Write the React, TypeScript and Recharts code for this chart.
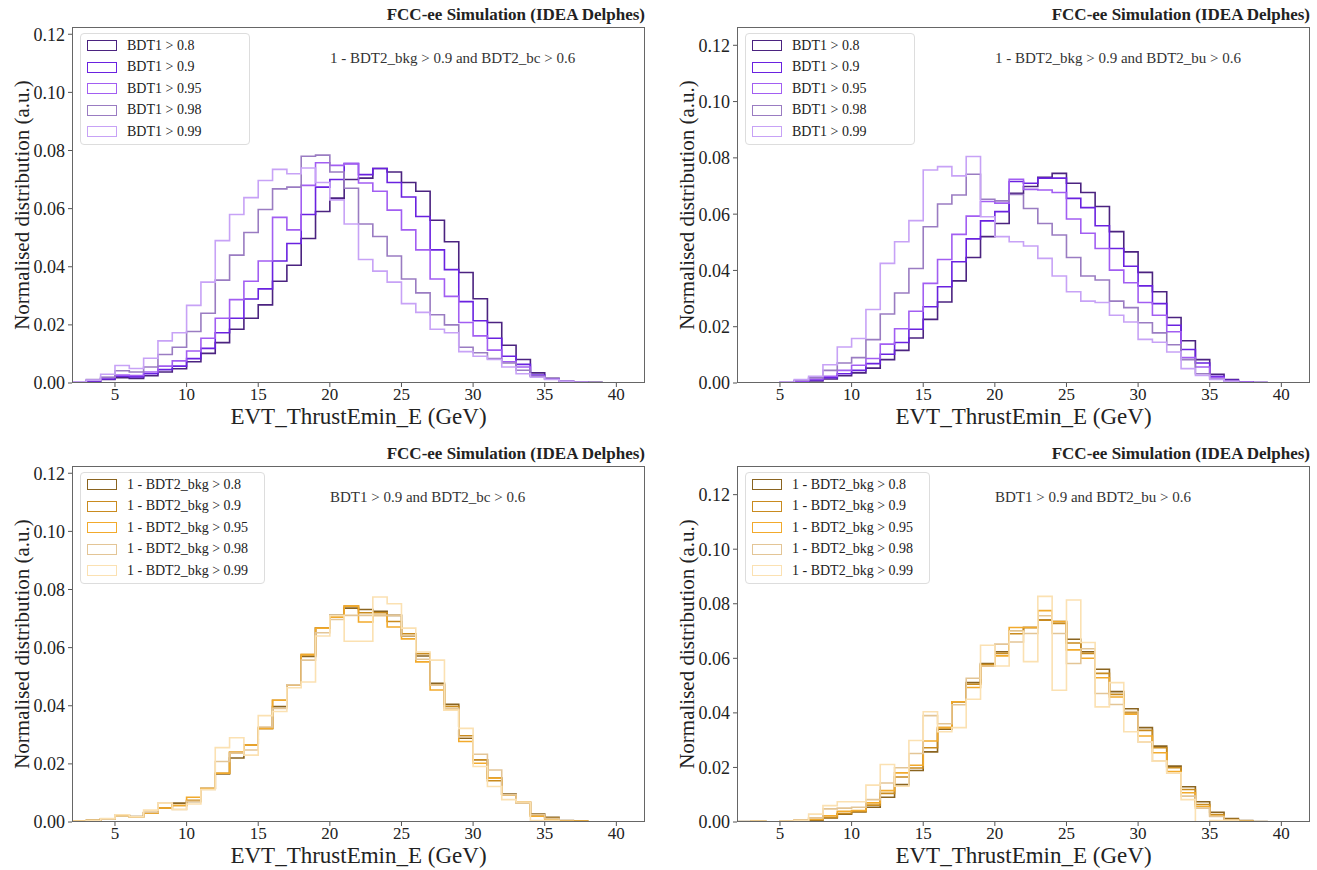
import React from 'react';
import { ComposedChart, Line, XAxis, YAxis } from 'recharts';

// histogram bin edges (GeV), 1 GeV wide
const binEdges = [2, 3, 4, 5, 6, 7, 8, 9, 10, 11, 12, 13, 14, 15, 16, 17, 18, 19, 20, 21, 22,
  23, 24, 25, 26, 27, 28, 29, 30, 31, 32, 33, 34, 35, 36, 37, 38, 39, 40, 41, 42];
const xTicks = [5, 10, 15, 20, 25, 30, 35, 40];
const yTicks = [0, 0.02, 0.04, 0.06, 0.08, 0.1, 0.12];

const bdt1Labels = ['BDT1 > 0.8', 'BDT1 > 0.9', 'BDT1 > 0.95', 'BDT1 > 0.98', 'BDT1 > 0.99'];
const bkgLabels = ['1 - BDT2_bkg > 0.8', '1 - BDT2_bkg > 0.9', '1 - BDT2_bkg > 0.95', '1 - BDT2_bkg > 0.98', '1 - BDT2_bkg > 0.99'];

const purples = ['#4B2380', '#6A22E0', '#A25EF2', '#9A7CC2', '#C7A2F6'];
const golds = ['#8A6420', '#C98B1F', '#F2AA2C', '#E3C596', '#FBE1B2'];

// top left: 1 - BDT2_bkg > 0.9 and BDT2_bc > 0.6
const tl08 = [0, 0.0005, 0.0012, 0.0018, 0.0016, 0.0025, 0.0038, 0.0049, 0.0073, 0.0102,
  0.0139, 0.0185, 0.0223, 0.0269, 0.035, 0.0405, 0.0497, 0.059, 0.0636, 0.070,
  0.0705, 0.0738, 0.0726, 0.069, 0.066, 0.056, 0.0486, 0.038, 0.029, 0.0208,
  0.013, 0.0081, 0.0035, 0.0016, 0.0007, 0.0003, 0.0002, 0.0001, 0, 0];
const tl09 = [0, 0.0007, 0.0014, 0.0023, 0.0021, 0.0032, 0.0046, 0.0058, 0.0084, 0.0119,
  0.0173, 0.0223, 0.0289, 0.0324, 0.042, 0.048, 0.058, 0.0674, 0.070, 0.0755,
  0.0717, 0.0738, 0.069, 0.064, 0.0573, 0.0458, 0.039, 0.028, 0.0214, 0.0154,
  0.0092, 0.0064, 0.0027, 0.0014, 0.0007, 0.0003, 0.0001, 0, 0, 0];
const tl095 = [0.0002, 0.0009, 0.0019, 0.0027, 0.0026, 0.0038, 0.0058, 0.0076, 0.011, 0.0154,
  0.0223, 0.0287, 0.035, 0.042, 0.057, 0.0527, 0.068, 0.0758, 0.0749, 0.0755,
  0.0688, 0.066, 0.0595, 0.0527, 0.0458, 0.0358, 0.0298, 0.0208, 0.0162, 0.0113,
  0.0073, 0.0055, 0.0023, 0.0013, 0.0006, 0.0003, 0.0001, 0, 0, 0];
const tl098 = [0.0002, 0.0012, 0.002, 0.0042, 0.0038, 0.0055, 0.0098, 0.0123, 0.0177, 0.024,
  0.0354, 0.044, 0.0518, 0.0597, 0.0668, 0.0674, 0.078, 0.0784, 0.0726, 0.067,
  0.0547, 0.0504, 0.0437, 0.0358, 0.031, 0.0235, 0.020, 0.0123, 0.0104, 0.0084,
  0.0069, 0.0044, 0.0023, 0.0013, 0.0007, 0.0003, 0.0001, 0, 0, 0];
const tl099 = [0.0003, 0.001, 0.003, 0.006, 0.005, 0.0085, 0.0145, 0.0173, 0.0267, 0.0347,
  0.049, 0.058, 0.0638, 0.0697, 0.0735, 0.072, 0.074, 0.069, 0.063, 0.0547,
  0.0425, 0.0385, 0.0347, 0.0273, 0.0243, 0.0185, 0.0173, 0.0108, 0.0092, 0.0081,
  0.0055, 0.0032, 0.002, 0.0012, 0.0006, 0.0002, 0.0001, 0, 0, 0];

// top right: 1 - BDT2_bkg > 0.9 and BDT2_bu > 0.6
const tr08 = [0, 0, 0, 0.0001, 0.0004, 0.0007, 0.0014, 0.0026, 0.0036, 0.0053,
  0.0083, 0.0116, 0.016, 0.0226, 0.0288, 0.0363, 0.0446, 0.052, 0.0567, 0.0674,
  0.0698, 0.0731, 0.0745, 0.071, 0.0677, 0.0627, 0.0538, 0.0466, 0.0393, 0.0324,
  0.0233, 0.015, 0.0083, 0.0031, 0.0012, 0.0004, 0.0002, 0.0001, 0, 0];
const tr09 = [0, 0, 0, 0.0002, 0.0006, 0.0011, 0.0019, 0.0033, 0.0045, 0.0069,
  0.0102, 0.0144, 0.0191, 0.0271, 0.0342, 0.0431, 0.0512, 0.0576, 0.0609, 0.0716,
  0.071, 0.0728, 0.0728, 0.0656, 0.0623, 0.0559, 0.0478, 0.0415, 0.0345, 0.0282,
  0.0205, 0.0119, 0.0071, 0.0024, 0.001, 0.0004, 0.0002, 0, 0, 0];
const tr095 = [0, 0, 0, 0.0002, 0.0007, 0.0014, 0.0024, 0.0045, 0.0063, 0.0087,
  0.0138, 0.0193, 0.0255, 0.0354, 0.0439, 0.0528, 0.0593, 0.0645, 0.0639, 0.0724,
  0.0688, 0.0686, 0.0677, 0.0583, 0.0532, 0.0478, 0.0401, 0.0356, 0.0286, 0.0241,
  0.0182, 0.009, 0.0057, 0.0019, 0.0008, 0.0003, 0.0001, 0, 0, 0];
const tr098 = [0, 0, 0, 0.0002, 0.001, 0.0019, 0.0045, 0.0071, 0.009, 0.0154,
  0.0245, 0.032, 0.0407, 0.0555, 0.0636, 0.0668, 0.0742, 0.0653, 0.0647, 0.067,
  0.062, 0.0567, 0.0526, 0.0446, 0.038, 0.0366, 0.0291, 0.0268, 0.0214, 0.0178,
  0.0136, 0.0083, 0.0033, 0.0015, 0.0006, 0.0002, 0.0001, 0, 0, 0];
const tr099 = [0, 0, 0, 0.0002, 0.0012, 0.0024, 0.0065, 0.0128, 0.0158, 0.0261,
  0.0425, 0.0502, 0.0577, 0.0757, 0.0769, 0.0736, 0.0805, 0.0591, 0.052, 0.0502,
  0.0487, 0.0443, 0.038, 0.0324, 0.0291, 0.0286, 0.0241, 0.0217, 0.0155, 0.0145,
  0.011, 0.0051, 0.0027, 0.0013, 0.0005, 0.0002, 0, 0, 0, 0];

// bottom left: BDT1 > 0.9 and BDT2_bc > 0.6
const bl08 = [0.0002, 0.0005, 0.0011, 0.0023, 0.0019, 0.0032, 0.0048, 0.0065, 0.0071, 0.0115,
  0.0165, 0.022, 0.0265, 0.0322, 0.0397, 0.0472, 0.057, 0.0667, 0.0711, 0.0736,
  0.0731, 0.0725, 0.0711, 0.064, 0.0571, 0.0477, 0.0405, 0.0288, 0.0214, 0.0151,
  0.0096, 0.0069, 0.0027, 0.0016, 0.0005, 0.0002, 0.0001, 0, 0, 0];
const bl09 = [0.0002, 0.0005, 0.001, 0.0022, 0.0018, 0.0032, 0.0048, 0.0057, 0.0075, 0.0115,
  0.0168, 0.024, 0.0265, 0.0322, 0.0419, 0.0472, 0.0576, 0.0667, 0.0705, 0.0743,
  0.072, 0.072, 0.069, 0.0648, 0.0579, 0.0471, 0.0398, 0.0297, 0.0214, 0.0142,
  0.0094, 0.0066, 0.0022, 0.0012, 0.0004, 0.0002, 0.0001, 0, 0, 0];
const bl095 = [0.0002, 0.0005, 0.001, 0.0023, 0.0018, 0.0031, 0.0048, 0.0057, 0.0085, 0.0115,
  0.0168, 0.024, 0.0265, 0.0322, 0.0419, 0.0472, 0.0576, 0.0667, 0.0705, 0.0743,
  0.0688, 0.0711, 0.0671, 0.063, 0.0551, 0.0454, 0.0385, 0.0277, 0.0202, 0.0151,
  0.0094, 0.0069, 0.002, 0.0007, 0.0004, 0.0002, 0.0001, 0, 0, 0];
const bl098 = [0.0002, 0.0004, 0.001, 0.0025, 0.0018, 0.0034, 0.0065, 0.0043, 0.0071, 0.0112,
  0.0208, 0.0237, 0.0248, 0.0327, 0.0391, 0.0472, 0.0557, 0.0651, 0.0697, 0.0711,
  0.0711, 0.0711, 0.0711, 0.0641, 0.056, 0.0471, 0.0391, 0.0293, 0.0233, 0.0179,
  0.0094, 0.0065, 0.0025, 0.0012, 0.0002, 0.0001, 0, 0, 0, 0];
const bl099 = [0.0002, 0.0004, 0.0012, 0.0025, 0.0018, 0.0041, 0.0065, 0.0043, 0.0062, 0.0112,
  0.0256, 0.029, 0.023, 0.0366, 0.038, 0.0462, 0.0482, 0.064, 0.071, 0.0622,
  0.0622, 0.0774, 0.0751, 0.0667, 0.0585, 0.0557, 0.0385, 0.0322, 0.0191, 0.0122,
  0.0077, 0.0069, 0.0005, 0.0005, 0.0001, 0, 0, 0, 0, 0];

// bottom right: BDT1 > 0.9 and BDT2_bu > 0.6
const br08 = [0.0002, 0.0003, 0, 0.0002, 0.0005, 0.0007, 0.0015, 0.0029, 0.0037, 0.0054,
  0.0091, 0.0137, 0.0189, 0.0257, 0.034, 0.0441, 0.0511, 0.0581, 0.0624, 0.0701,
  0.0713, 0.074, 0.0735, 0.067, 0.0624, 0.056, 0.0478, 0.0415, 0.0346, 0.0278,
  0.0205, 0.0129, 0.0074, 0.0036, 0.0013, 0.0005, 0.0002, 0.0001, 0, 0];
const br09 = [0.0001, 0.0002, 0, 0.0002, 0.0005, 0.0008, 0.0017, 0.0031, 0.0039, 0.0062,
  0.0105, 0.0165, 0.0198, 0.0272, 0.0346, 0.0441, 0.0505, 0.0577, 0.0618, 0.069,
  0.0713, 0.074, 0.0728, 0.0656, 0.0618, 0.0545, 0.0468, 0.040, 0.0336, 0.0272,
  0.0199, 0.0119, 0.0064, 0.0027, 0.0009, 0.0003, 0.0001, 0, 0, 0];
const br095 = [0.0001, 0.0002, 0, 0.0002, 0.0006, 0.001, 0.0023, 0.0039, 0.0042, 0.007,
  0.0115, 0.018, 0.0208, 0.0297, 0.0346, 0.0441, 0.0493, 0.0572, 0.0609, 0.0713,
  0.0713, 0.0775, 0.0735, 0.0631, 0.060, 0.0529, 0.0458, 0.0395, 0.0315, 0.0254,
  0.0185, 0.0107, 0.0057, 0.0021, 0.0008, 0.0003, 0.0001, 0, 0, 0];
const br098 = [0.0001, 0.0002, 0, 0.0003, 0.0007, 0.0015, 0.0048, 0.0051, 0.0054, 0.0082,
  0.0143, 0.0199, 0.0251, 0.039, 0.036, 0.043, 0.0527, 0.0572, 0.0652, 0.066,
  0.0691, 0.0756, 0.0691, 0.0581, 0.0635, 0.0471, 0.0431, 0.0405, 0.0293, 0.0223,
  0.018, 0.0095, 0.0051, 0.002, 0.0007, 0.0002, 0.0001, 0, 0, 0];
const br099 = [0.0001, 0.0003, 0, 0.0003, 0.0005, 0.0029, 0.006, 0.0074, 0.0074, 0.0135,
  0.0211, 0.0131, 0.0299, 0.0404, 0.0331, 0.0346, 0.045, 0.0648, 0.0572, 0.070,
  0.0588, 0.0827, 0.0483, 0.0814, 0.0658, 0.0422, 0.0511, 0.0331, 0.0293, 0.0223,
  0.018, 0.0082, 0, 0.0005, 0.0005, 0.0002, 0, 0, 0, 0];

const SERIF = '"Liberation Serif", "DejaVu Serif", serif';

const buildRows = (series: number[][]) =>
  binEdges.map((x, i) => {
    const row: Record<string, number> = { x };
    series.forEach((vals, k) => {
      row[`s${k}`] = i < vals.length ? vals[i] : 0;
    });
    return row;
  });

type PanelProps = {
  left: number;
  top: number;
  series: number[][];
  labels: string[];
  colors: string[];
  yMax: number;
  note: string;
  legendWidth: number;
};

const Panel = ({ left, top, series, labels, colors, yMax, note, legendWidth }: PanelProps) => {
  const rows = buildRows(series);
  return (
    <div style={{ position: 'absolute', left, top, width: 660, height: 440, fontFamily: SERIF, color: '#222' }}>
      <div style={{ position: 'absolute', right: 15, top: 5, fontSize: 17, lineHeight: '20px', fontWeight: 'bold', whiteSpace: 'nowrap' }}>
        FCC-ee Simulation (IDEA Delphes)
      </div>
      <div style={{ position: 'absolute', left: 0, top: 0 }}>
        <ComposedChart width={655} height={413} data={rows} margin={{ top: 27, right: 10, bottom: 0, left: 0 }}>
          <XAxis
            dataKey="x"
            type="number"
            domain={[2, 42]}
            ticks={xTicks}
            allowDataOverflow
            axisLine={false}
            tickSize={4}
            tickMargin={1}
            tickLine={{ stroke: '#555' }}
            tick={{ fontSize: 17, fill: '#222', fontFamily: SERIF }}
            height={30}
          />
          <YAxis
            type="number"
            domain={[0, yMax]}
            ticks={yTicks}
            allowDataOverflow
            tickFormatter={(v: number) => v.toFixed(2)}
            axisLine={false}
            tickSize={4}
            tickMargin={3}
            tickLine={{ stroke: '#555' }}
            tick={{ fontSize: 18, fill: '#222', fontFamily: SERIF }}
            width={72}
          />
          {series.map((_, k) => (
            <Line
              key={k}
              dataKey={`s${k}`}
              type="stepAfter"
              stroke={colors[k]}
              strokeWidth={1.6}
              dot={false}
              activeDot={false}
              isAnimationActive={false}
            />
          ))}
        </ComposedChart>
      </div>
      {/* full box frame like matplotlib spines */}
      <div style={{ position: 'absolute', left: 72, top: 27, width: 573, height: 356, border: '1px solid #666', boxSizing: 'border-box' }} />
      <div
        style={{
          position: 'absolute', left: 80, top: 33, width: legendWidth, height: 112,
          border: '1px solid #ddd', borderRadius: 4, background: 'rgba(255,255,255,0.85)', boxSizing: 'border-box', paddingTop: 1,
        }}
      >
        {labels.map((lab, k) => (
          <div key={lab} style={{ display: 'flex', alignItems: 'center', height: 21.5, fontSize: 14, whiteSpace: 'nowrap' }}>
            <div style={{ width: 30, height: 11, marginLeft: 6, marginRight: 10, border: `1.6px solid ${colors[k]}`, boxSizing: 'border-box' }} />
            <span>{lab}</span>
          </div>
        ))}
      </div>
      <div style={{ position: 'absolute', left: 330, top: 49, fontSize: 15, lineHeight: '18px', whiteSpace: 'nowrap', color: '#333' }}>{note}</div>
      <div style={{ position: 'absolute', left: 72, width: 573, top: 405, textAlign: 'center', fontSize: 23, lineHeight: '23px', whiteSpace: 'nowrap' }}>
        EVT_ThrustEmin_E (GeV)
      </div>
      <div
        style={{
          position: 'absolute', left: 22, top: 205, transform: 'translate(-50%, -50%) rotate(-90deg)',
          fontSize: 21, lineHeight: '22px', whiteSpace: 'nowrap',
        }}
      >
        Normalised distribution (a.u.)
      </div>
    </div>
  );
};

export default function App() {
  return (
    <div style={{ position: 'absolute', left: 0, top: 0, width: 1317, height: 870, background: '#fff' }}>
      <Panel left={0} top={0} series={[tl08, tl09, tl095, tl098, tl099]} labels={bdt1Labels} colors={purples}
        yMax={0.1225} note="1 - BDT2_bkg > 0.9 and BDT2_bc > 0.6" legendWidth={170} />
      <Panel left={665} top={0} series={[tr08, tr09, tr095, tr098, tr099]} labels={bdt1Labels} colors={purples}
        yMax={0.1265} note="1 - BDT2_bkg > 0.9 and BDT2_bu > 0.6" legendWidth={170} />
      <Panel left={0} top={439} series={[bl08, bl09, bl095, bl098, bl099]} labels={bkgLabels} colors={golds}
        yMax={0.1225} note="BDT1 > 0.9 and BDT2_bc > 0.6" legendWidth={185} />
      <Panel left={665} top={439} series={[br08, br09, br095, br098, br099]} labels={bkgLabels} colors={golds}
        yMax={0.1305} note="BDT1 > 0.9 and BDT2_bu > 0.6" legendWidth={185} />
    </div>
  );
}
